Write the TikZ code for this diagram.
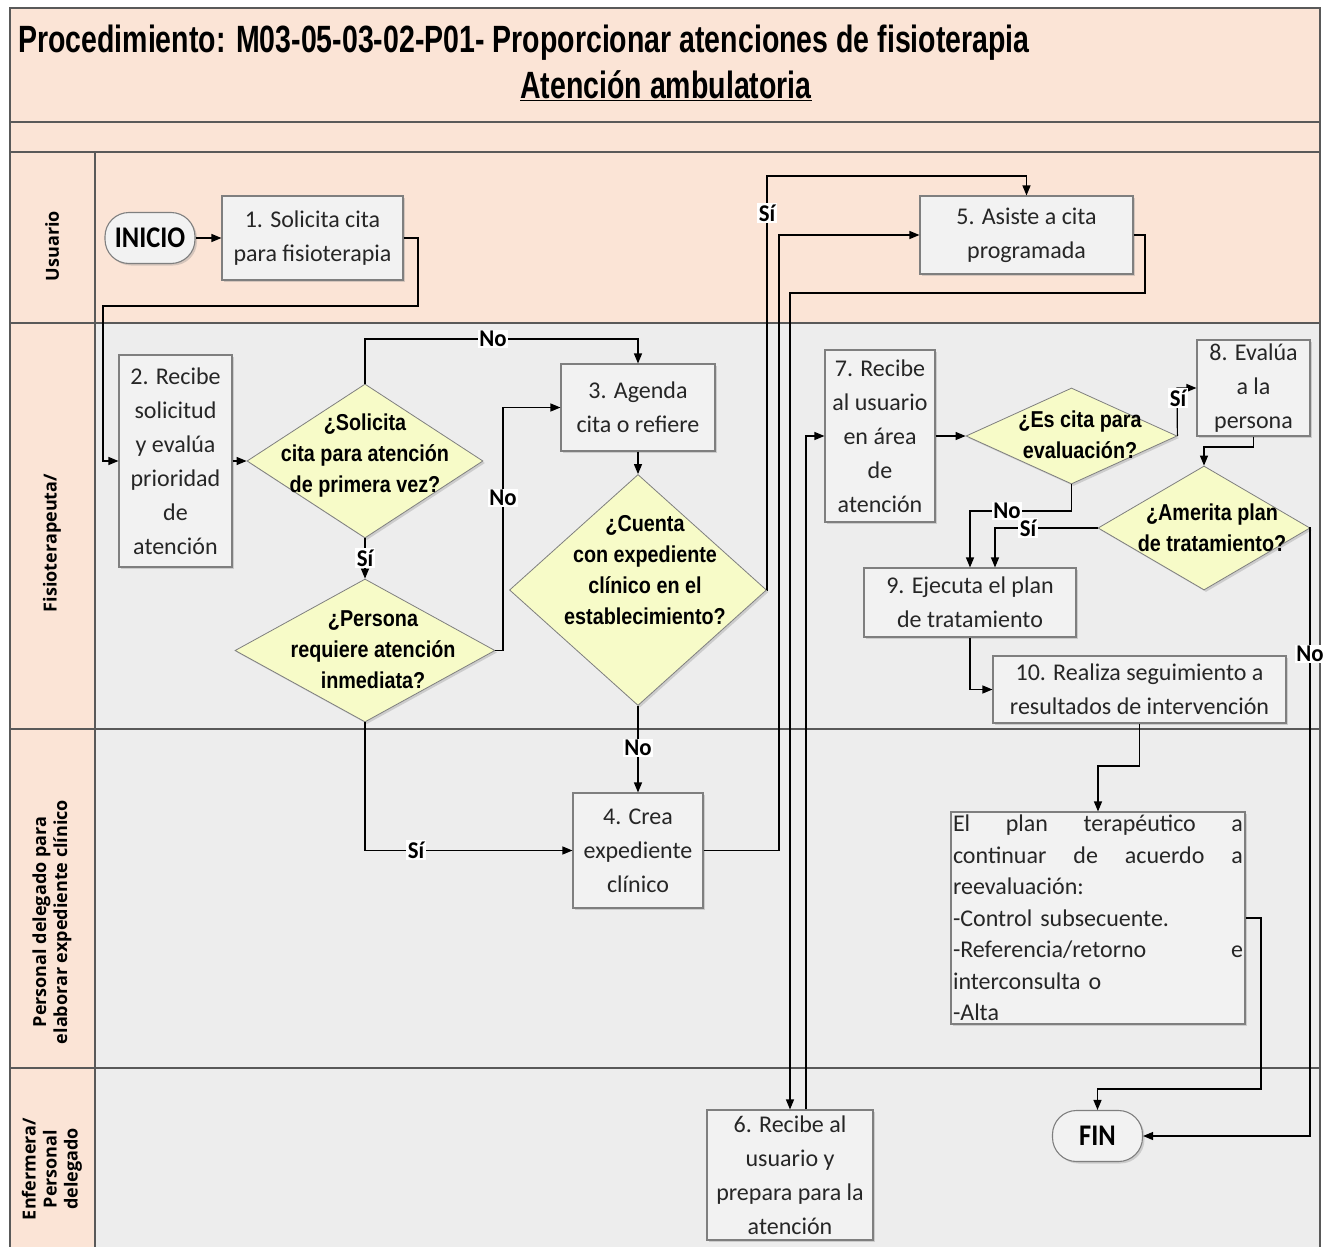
\documentclass[tikz,border=0pt]{standalone}
\usepackage{fontspec}
\setmainfont{Carlito}
\newfontfamily\boxfont{Carlito}
\newfontfamily\decfont[FakeStretch=0.86]{Liberation Sans}
\newfontfamily\titlefont[FakeStretch=0.75]{Liberation Sans}
\newfontfamily\lanefont{Open Sans}
\newfontfamily\termfont[FakeStretch=0.88]{Carlito}
\newfontfamily\lblfont[FakeStretch=0.95]{Carlito}
\usetikzlibrary{shapes.geometric,arrows.meta,shadows}

\definecolor{peach}{HTML}{FBE4D6}
\definecolor{lanegray}{HTML}{EDEDED}
\definecolor{decfill}{HTML}{F7FBC8}
\definecolor{boxfill}{HTML}{F2F2F2}
\definecolor{boxline}{HTML}{7F7F7F}
\definecolor{laneline}{HTML}{595959}

\newcommand{\jline}[1]{\leavevmode\hbox to 290pt{#1}}

\begin{document}
\begin{tikzpicture}[x=1pt,y=-1pt,
  shd/.style={drop shadow={shadow xshift=2pt,shadow yshift=-2pt,opacity=0.3}},
  procbox/.style={rectangle, draw=boxline, fill=boxfill, line width=1.1pt, inner sep=0pt, align=center, text=black!85, font=\boxfont\fontsize{24}{34}\selectfont, shd},
  term/.style={rectangle, rounded corners=24pt, draw=boxline, fill=boxfill, line width=1.1pt, minimum width=90pt, minimum height=51pt, font=\termfont\bfseries\fontsize{30}{34}\selectfont, shd},
  decision/.style={diamond, draw=boxline, fill=decfill, line width=0.8pt, inner sep=0pt, shd},
  dtext/.style={align=center, font=\decfont\bfseries\fontsize{23}{31}\selectfont, inner sep=0pt},
  lbl/.style={fill=white, inner sep=1.5pt, font=\lblfont\bfseries\fontsize{24}{26}\selectfont},
  lanelbl/.style={rotate=90, align=center, font=\lanefont\bfseries\fontsize{18}{21}\selectfont},
  arr/.style={line width=1.2pt, -{Triangle[length=10pt,width=8pt]}},
  lane/.style={draw=laneline, line width=1.5pt}
]
\useasboundingbox (0,0) rectangle (1333,1247);

% backgrounds
\fill[peach] (10,8) rectangle (1320,323);
\fill[lanegray] (95,323) rectangle (1320,1247);
\fill[peach] (10,323) rectangle (95,1247);
\draw[lane] (10,1247) -- (10,8) -- (1320,8) -- (1320,1247);
\draw[lane] (10,122) -- (1320,122);
\draw[lane] (10,152) -- (1320,152);
\draw[lane] (10,323) -- (1320,323);
\draw[lane] (10,729) -- (1320,729);
\draw[lane] (10,1068) -- (1320,1068);
\draw[lane] (95,152) -- (95,1247);

% title
\node[anchor=west, inner sep=0pt, font=\titlefont\bfseries\fontsize{38}{42}\selectfont] (t1) at (18,43) {Procedimiento: M03-05-03-02-P01- Proporcionar atenciones de fisioterapia};
\node[inner sep=0pt, font=\titlefont\bfseries\fontsize{38}{42}\selectfont] (t2) at (666,86) {\underline{Atención ambulatoria}};

% lane labels
\node[lanelbl] (l1) at (52,246) {Usuario};
\node[lanelbl] (l2) at (52,543) {Fisioterapeuta/};
\node[lanelbl] (l3) at (52,922) {Personal delegado para\\elaborar expediente clínico};
\node[lanelbl] (l4) at (52,1169) {Enfermera/\\Personal\\delegado};

% nodes
\node[term] (inicio) at (150,238) {INICIO};
\node[procbox, minimum width=181pt, minimum height=84pt] (s1) at (312.5,238) {1. Solicita cita\\para fisioterapia};
\node[procbox, minimum width=113pt, minimum height=212pt] (s2) at (175.5,461) {2. Recibe\\solicitud\\y evalúa\\prioridad\\de\\atención};
\node[decision, minimum width=236pt, minimum height=154pt] (d1) at (365,461) {};
\node[dtext] (d1t) at (365,456) {¿Solicita\\cita para atención\\de primera vez?};
\node[decision, minimum width=260pt, minimum height=143pt] (d2) at (365,650.5) {};
\node[dtext] (d2t) at (373,650) {¿Persona\\requiere atención\\inmediata?};
\node[procbox, minimum width=154pt, minimum height=87pt] (s3) at (638,407.5) {3. Agenda\\cita o refiere};
\node[decision, minimum width=257pt, minimum height=231pt] (d3) at (638,590) {};
\node[dtext] (d3t) at (645,570) {¿Cuenta\\con expediente\\clínico en el\\establecimiento?};
\node[procbox, minimum width=130pt, minimum height=115pt] (s4) at (638,850.5) {4. Crea\\expediente\\clínico};
\node[procbox, minimum width=213pt, minimum height=78pt] (s5) at (1026.5,235) {5. Asiste a cita\\programada};
\node[procbox, minimum width=166pt, minimum height=130pt] (s6) at (790,1175) {6. Recibe al\\usuario y\\prepara para la\\atención};
\node[procbox, minimum width=110pt, minimum height=172pt] (s7) at (880,436) {7. Recibe\\al usuario\\en área\\de\\atención};
\node[decision, minimum width=211pt, minimum height=96pt] (d4) at (1071.5,436) {};
\node[dtext] (d4t) at (1080,435) {¿Es cita para\\evaluación?};
\node[procbox, minimum width=113pt, minimum height=96pt] (s8) at (1253.5,388) {8. Evalúa\\a la\\persona};
\node[decision, minimum width=212pt, minimum height=124pt] (d5) at (1204,528) {};
\node[dtext] (d5t) at (1212,528) {¿Amerita plan\\de tratamiento?};
\node[procbox, minimum width=212pt, minimum height=69pt] (s9) at (970,602.5) {9. Ejecuta el plan\\de tratamiento};
\node[procbox, minimum width=293pt, minimum height=67pt] (s10) at (1139.5,689.5) {10. Realiza seguimiento a\\resultados de intervención};
\node[procbox, minimum width=294pt, minimum height=212pt, text width=290pt, align=left, font=\boxfont\fontsize{24}{31.5}\selectfont] (plan) at (1098,918) {\jline{El\hfill plan\hfill terapéutico\hfill a}\\
\jline{continuar\hfill de\hfill acuerdo\hfill a}\\
reevaluación:\\
-Control subsecuente.\\
\jline{-Referencia/retorno\hfill e}\\
interconsulta o\\
-Alta};
\node[term] (fin) at (1097.5,1136) {FIN};

% connectors
\draw[arr] (inicio) -- (s1);
\draw[arr] (s1.east) -- (418,238) -- (418,306) -- (103,306) -- (103,461) -- (s2.west);
\draw[arr] (s2) -- (d1);
\draw[arr] (d1.north) -- (365,339) -- (638,339) -- (s3.north);
\draw[arr] (d1.south) -- (d2.north);
\draw[arr] (d2.east) -- (503,650.5) -- (503,407.5) -- (s3.west);
\draw[arr] (d2.south) -- (365,850.5) -- (s4.west);
\draw[arr] (s3.south) -- (d3.north);
\draw[arr] (d3.south) -- (s4.north);
\draw[arr] (d3.east) -- (767,590) -- (767,176) -- (1026.5,176) -- (s5.north);
\draw[arr] (s4.east) -- (779,850.5) -- (779,235) -- (s5.west);
\draw[arr] (s5.east) -- (1145,235) -- (1145,293) -- (790,293) -- (s6.north);
\draw[arr] ([xshift=16pt]s6.north) -- (806,436) -- (s7.west);
\draw[arr] (s7) -- (d4);
\draw[arr] (d4.east) -- (1177,388) -- (s8.west);
\draw[arr] (s8.south) -- (1253.5,447) -- (1204,447) -- (d5.north);
\draw[arr] (d4.south) -- (1071.5,511) -- (970,511) -- (s9.north);
\draw[arr] (d5.west) -- (995,528) -- ([xshift=25pt]s9.north);
\draw[arr] (d5.east) -- (1310,528) -- (1310,1136) -- (fin.east);
\draw[arr] (s9.south) -- (970,689.5) -- (s10.west);
\draw[arr] (s10.south) -- (1139.5,766) -- (1098,766) -- (plan.north);
\draw[arr] (plan.east) -- (1261,918) -- (1261,1089) -- (1097.5,1089) -- (fin.north);

% connector labels
\node[lbl] (n1) at (493,339) {No};
\node[lbl] (n2) at (365,558) {Sí};
\node[lbl] (n3) at (503,498) {No};
\node[lbl] (n4) at (416,850) {Sí};
\node[lbl] (n5) at (638,748) {No};
\node[lbl] (n6) at (767,213) {Sí};
\node[lbl] (n7) at (1178,398) {Sí};
\node[lbl] (n8) at (1007,511) {No};
\node[lbl] (n9) at (1028,528) {Sí};
\node[lbl] (n10) at (1310,654) {No};
\end{tikzpicture}
\end{document}
